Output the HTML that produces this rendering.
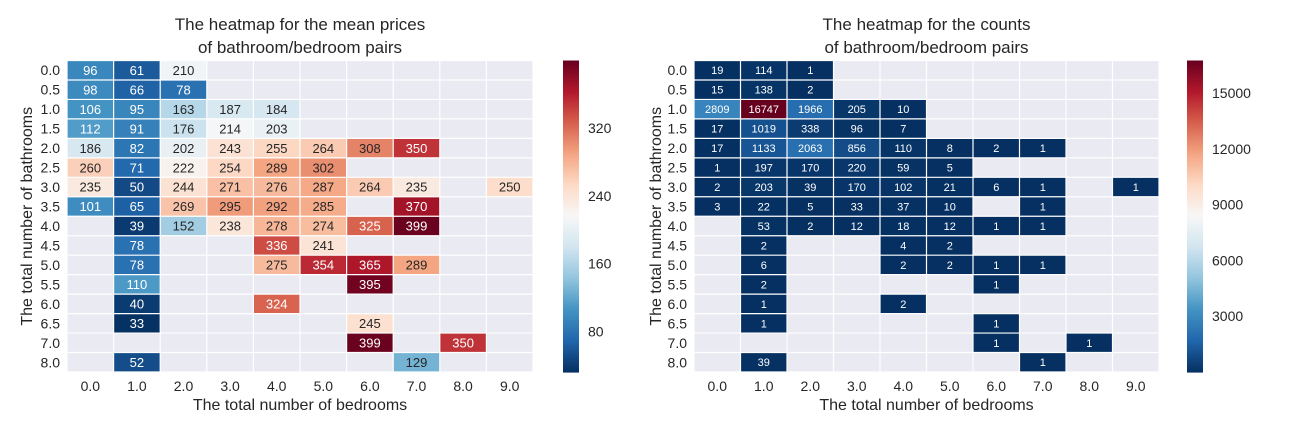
<!DOCTYPE html>
<html><head><meta charset="utf-8"><style>
body{margin:0;background:#fff;font-family:"Liberation Sans",sans-serif;}
svg text{font-family:"Liberation Sans",sans-serif;fill:#262626;}
</style></head><body>
<svg id="s" width="1296" height="432" xmlns="http://www.w3.org/2000/svg"></svg>
<script>
const rowLabels=["0.0","0.5","1.0","1.5","2.0","2.5","3.0","3.5","4.0","4.5","5.0","5.5","6.0","6.5","7.0","8.0"];
const colLabels=["0.0","1.0","2.0","3.0","4.0","5.0","6.0","7.0","8.0","9.0"];
const N=null;
const priceValues=[
[96,61,210,N,N,N,N,N,N,N],
[98,66,78,N,N,N,N,N,N,N],
[106,95,163,187,184,N,N,N,N,N],
[112,91,176,214,203,N,N,N,N,N],
[186,82,202,243,255,264,308,350,N,N],
[260,71,222,254,289,302,N,N,N,N],
[235,50,244,271,276,287,264,235,N,250],
[101,65,269,295,292,285,N,370,N,N],
[N,39,152,238,278,274,325,399,N,N],
[N,78,N,N,336,241,N,N,N,N],
[N,78,N,N,275,354,365,289,N,N],
[N,110,N,N,N,N,395,N,N,N],
[N,40,N,N,324,N,N,N,N,N],
[N,33,N,N,N,N,245,N,N,N],
[N,N,N,N,N,N,399,N,350,N],
[N,52,N,N,N,N,N,129,N,N]];
const countValues=[
[19,114,1,N,N,N,N,N,N,N],
[15,138,2,N,N,N,N,N,N,N],
[2809,16747,1966,205,10,N,N,N,N,N],
[17,1019,338,96,7,N,N,N,N,N],
[17,1133,2063,856,110,8,2,1,N,N],
[1,197,170,220,59,5,N,N,N,N],
[2,203,39,170,102,21,6,1,N,1],
[3,22,5,33,37,10,N,1,N,N],
[N,53,2,12,18,12,1,1,N,N],
[N,2,N,N,4,2,N,N,N,N],
[N,6,N,N,2,2,1,1,N,N],
[N,2,N,N,N,N,1,N,N,N],
[N,1,N,N,2,N,N,N,N,N],
[N,1,N,N,N,N,1,N,N,N],
[N,N,N,N,N,N,1,N,1,N],
[N,39,N,N,N,N,N,1,N,N]];
const priceTicks=[80,160,240,320];
const countTicks=[3000,6000,9000,12000,15000];

const NS="http://www.w3.org/2000/svg";
const svg=document.getElementById('s');
const stops=["#053061","#2166ac","#4393c3","#92c5de","#d1e5f0","#f7f7f7","#fddbc7","#f4a582","#d6604d","#b2182b","#67001f"];
function hx(h){return [1,3,5].map(i=>parseInt(h.substr(i,2),16));}
function cmap(t){t=Math.max(0,Math.min(1,t));const p=t*10,i=Math.min(9,Math.floor(p)),f=p-i;const a=hx(stops[i]),b=hx(stops[i+1]);return a.map((v,k)=>Math.round(v+(b[k]-v)*f));}
function el(tag,attrs,parent){const e=document.createElementNS(NS,tag);for(const k in attrs)e.setAttribute(k,attrs[k]);(parent||svg).appendChild(e);return e;}

function heat(cfg){
  const g=el('g',{});
  
  
  const x0=cfg.x0,x1=cfg.x1,y0=60.5,y1=372;
  const cw=(x1-x0)/colLabels.length,rh=(y1-y0)/rowLabels.length;
  const xs=c=>x0+c*cw, ys=r=>y0+r*rh;
  const norm=v=>(v-cfg.vmin)/(cfg.vmax-cfg.vmin);
  el('rect',{x:x0,y:y0,width:x1-x0,height:y1-y0,fill:'#eaeaf2'},g);
  cfg.data.forEach((row,r)=>row.forEach((v,c)=>{
    if(v===null)return;
    const col=cmap(norm(v));
    const rc=el('rect',{x:xs(c),y:ys(r),width:cw,height:rh,fill:`rgb(${col})`},g);
    
    
    const lum=0.299*col[0]+0.587*col[1]+0.114*col[2];
    const t=el('text',{x:xs(c)+cw/2,y:ys(r)+rh/2+cfg.fs*0.36,'text-anchor':'middle','font-size':cfg.fs},g);
    t.style.fill=lum<140?'#ffffff':'#262626';
    t.textContent=v;
    
    
  }));
  for(let c=0;c<=colLabels.length;c++)el('line',{x1:xs(c),x2:xs(c),y1:y0,y2:y1,stroke:'#fff','stroke-width':1.2},g);
  for(let r=0;r<=rowLabels.length;r++)el('line',{x1:x0,x2:x1,y1:ys(r),y2:ys(r),stroke:'#fff','stroke-width':1.2},g);
  rowLabels.forEach((l,r)=>{const t=el('text',{x:x0-7,y:ys(r)+rh/2+5,'text-anchor':'end','font-size':14},g);t.textContent=l;});
  colLabels.forEach((l,c)=>{const t=el('text',{x:xs(c)+cw/2,y:391,'text-anchor':'middle','font-size':14},g);t.textContent=l;});
  const xt=el('text',{x:(x0+x1)/2,y:410,'text-anchor':'middle','font-size':16},g);xt.textContent='The total number of bedrooms';
  
  const yt=el('text',{x:0,y:0,'text-anchor':'middle','font-size':16,transform:`translate(${cfg.ylx},${(y0+y1)/2}) rotate(-90)`},g);yt.textContent='The total number of bathrooms';
  
  const t1=el('text',{x:(x0+x1)/2,y:30,'text-anchor':'middle','font-size':17},g);t1.textContent=cfg.title;
  const t2=el('text',{x:(x0+x1)/2,y:53,'text-anchor':'middle','font-size':17},g);t2.textContent='of bathroom/bedroom pairs';
  
  
  // colorbar
  const cb=el('g',{},g);
  
  const n=120,bh=(y1-y0)/n;
  for(let i=0;i<n;i++){const col=cmap(1-(i+0.5)/n);el('rect',{x:cfg.cbx,y:y0+i*bh,width:cfg.cbw,height:bh+0.6,fill:`rgb(${col})`},cb);}
  cfg.ticks.forEach(v=>{const y=y1-norm(v)*(y1-y0);const t=el('text',{x:cfg.cbx+cfg.cbw+9,y:y+5,'font-size':14},cb);t.textContent=v;});
}
heat({name:'price-heatmap',x0:67,x1:533,data:priceValues,vmin:32,vmax:400,fs:13,ylx:32,cbx:563,cbw:16,ticks:priceTicks,title:'The heatmap for the mean prices'});
heat({name:'count-heatmap',x0:694,x1:1159,data:countValues,vmin:1,vmax:16747,fs:11,ylx:661,cbx:1187,cbw:16,ticks:countTicks,title:'The heatmap for the counts'});
</script>
</body></html>
